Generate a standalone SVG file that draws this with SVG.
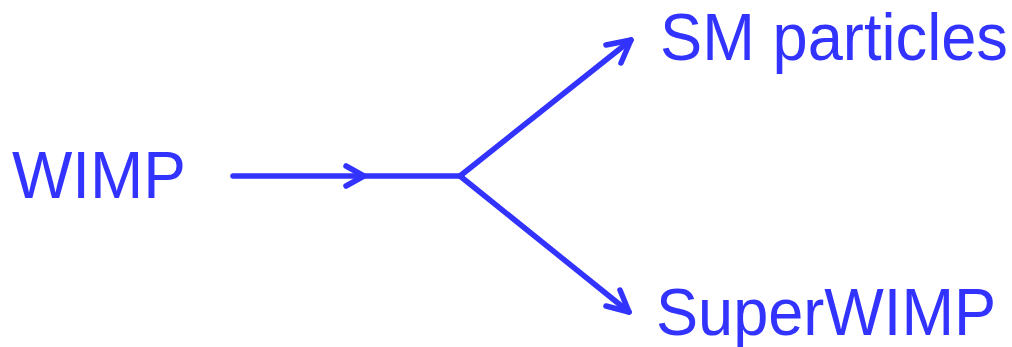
<svg xmlns="http://www.w3.org/2000/svg" width="1012" height="347" viewBox="0 0 1012 347">
<style>
.t{font-family:"Liberation Sans",Arial,sans-serif;font-size:66px;fill:#3333ff}
.l{fill:none;stroke:#3333ff;stroke-width:5.5;stroke-linecap:round;stroke-linejoin:round}
</style>
<rect width="1012" height="347" fill="#fff"/>
<g id="connectors">
<path class="l" d="M233 176 L460 176"/>
<path class="l" d="M346 166 L364 176 L346 186"/>
<path class="l" d="M460 176 L631 40"/>
<path class="l" d="M606 45 L631 40 L621 63"/>
<path class="l" d="M460 176 L629 312"/>
<path class="l" d="M620 290 L629 312 L606 306"/>
</g>
<g id="wimp"><text class="t" x="12" y="198" textLength="174" lengthAdjust="spacingAndGlyphs">WIMP</text></g>
<g id="sm"><text class="t" x="660" y="60" textLength="348" lengthAdjust="spacingAndGlyphs">SM particles</text></g>
<g id="superwimp"><text class="t" x="656" y="335" textLength="340" lengthAdjust="spacingAndGlyphs">SuperWIMP</text></g>
</svg>
